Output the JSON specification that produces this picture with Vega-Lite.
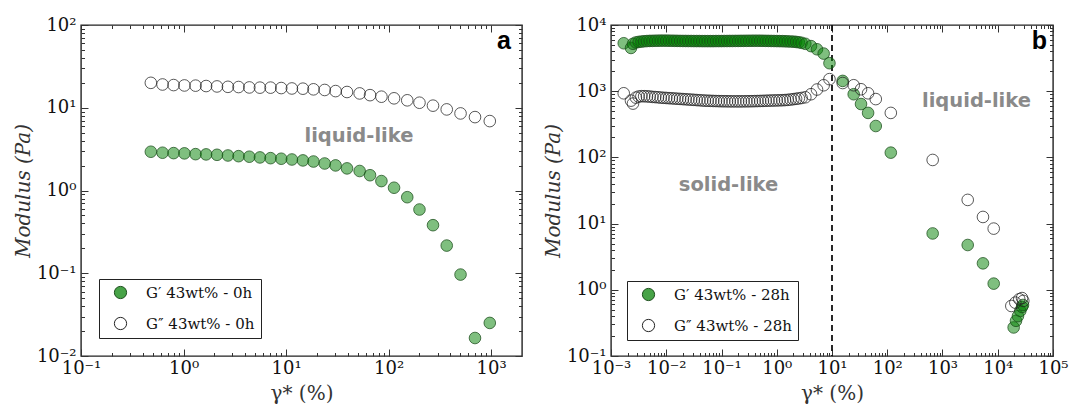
{
  "$schema": "https://vega.github.io/schema/vega-lite/v6.json",
  "padding": {"left": 13, "top": 15, "right": 0, "bottom": 0},
  "background": "white",
  "bounds": "flush",
  "spacing": 89,
  "datasets": {
    "a_gp": [
      {"strain": 0.48, "modulus": 2.94, "series": "G′ 43wt% - 0h"},
      {"strain": 0.624, "modulus": 2.86, "series": "G′ 43wt% - 0h"},
      {"strain": 0.8, "modulus": 2.83, "series": "G′ 43wt% - 0h"},
      {"strain": 1.02, "modulus": 2.81, "series": "G′ 43wt% - 0h"},
      {"strain": 1.31, "modulus": 2.75, "series": "G′ 43wt% - 0h"},
      {"strain": 1.66, "modulus": 2.73, "series": "G′ 43wt% - 0h"},
      {"strain": 2.12, "modulus": 2.7, "series": "G′ 43wt% - 0h"},
      {"strain": 2.71, "modulus": 2.65, "series": "G′ 43wt% - 0h"},
      {"strain": 3.44, "modulus": 2.6, "series": "G′ 43wt% - 0h"},
      {"strain": 4.38, "modulus": 2.56, "series": "G′ 43wt% - 0h"},
      {"strain": 5.56, "modulus": 2.51, "series": "G′ 43wt% - 0h"},
      {"strain": 7.06, "modulus": 2.46, "series": "G′ 43wt% - 0h"},
      {"strain": 8.97, "modulus": 2.42, "series": "G′ 43wt% - 0h"},
      {"strain": 11.4, "modulus": 2.37, "series": "G′ 43wt% - 0h"},
      {"strain": 14.6, "modulus": 2.31, "series": "G′ 43wt% - 0h"},
      {"strain": 18.5, "modulus": 2.24, "series": "G′ 43wt% - 0h"},
      {"strain": 23.8, "modulus": 2.12, "series": "G′ 43wt% - 0h"},
      {"strain": 30.4, "modulus": 2.01, "series": "G′ 43wt% - 0h"},
      {"strain": 39.3, "modulus": 1.85, "series": "G′ 43wt% - 0h"},
      {"strain": 52.2, "modulus": 1.72, "series": "G′ 43wt% - 0h"},
      {"strain": 65.9, "modulus": 1.53, "series": "G′ 43wt% - 0h"},
      {"strain": 85.1, "modulus": 1.3, "series": "G′ 43wt% - 0h"},
      {"strain": 113, "modulus": 1.08, "series": "G′ 43wt% - 0h"},
      {"strain": 152, "modulus": 0.83, "series": "G′ 43wt% - 0h"},
      {"strain": 200, "modulus": 0.589, "series": "G′ 43wt% - 0h"},
      {"strain": 271, "modulus": 0.381, "series": "G′ 43wt% - 0h"},
      {"strain": 369, "modulus": 0.216, "series": "G′ 43wt% - 0h"},
      {"strain": 503, "modulus": 0.0964, "series": "G′ 43wt% - 0h"},
      {"strain": 696, "modulus": 0.0165, "series": "G′ 43wt% - 0h"},
      {"strain": 970, "modulus": 0.0251, "series": "G′ 43wt% - 0h"}
    ],
    "a_gpp": [
      {"strain": 0.48, "modulus": 20.0, "series": "G″ 43wt% - 0h"},
      {"strain": 0.624, "modulus": 19.1, "series": "G″ 43wt% - 0h"},
      {"strain": 0.8, "modulus": 18.8, "series": "G″ 43wt% - 0h"},
      {"strain": 1.02, "modulus": 18.6, "series": "G″ 43wt% - 0h"},
      {"strain": 1.31, "modulus": 18.5, "series": "G″ 43wt% - 0h"},
      {"strain": 1.66, "modulus": 18.3, "series": "G″ 43wt% - 0h"},
      {"strain": 2.12, "modulus": 18.1, "series": "G″ 43wt% - 0h"},
      {"strain": 2.71, "modulus": 17.9, "series": "G″ 43wt% - 0h"},
      {"strain": 3.44, "modulus": 17.8, "series": "G″ 43wt% - 0h"},
      {"strain": 4.38, "modulus": 17.6, "series": "G″ 43wt% - 0h"},
      {"strain": 5.56, "modulus": 17.5, "series": "G″ 43wt% - 0h"},
      {"strain": 7.06, "modulus": 17.5, "series": "G″ 43wt% - 0h"},
      {"strain": 8.97, "modulus": 17.3, "series": "G″ 43wt% - 0h"},
      {"strain": 11.4, "modulus": 17.1, "series": "G″ 43wt% - 0h"},
      {"strain": 14.6, "modulus": 17.0, "series": "G″ 43wt% - 0h"},
      {"strain": 18.5, "modulus": 16.7, "series": "G″ 43wt% - 0h"},
      {"strain": 23.8, "modulus": 16.4, "series": "G″ 43wt% - 0h"},
      {"strain": 30.4, "modulus": 15.9, "series": "G″ 43wt% - 0h"},
      {"strain": 39.3, "modulus": 15.5, "series": "G″ 43wt% - 0h"},
      {"strain": 52.2, "modulus": 14.9, "series": "G″ 43wt% - 0h"},
      {"strain": 65.9, "modulus": 14.2, "series": "G″ 43wt% - 0h"},
      {"strain": 85.1, "modulus": 13.6, "series": "G″ 43wt% - 0h"},
      {"strain": 113, "modulus": 13.0, "series": "G″ 43wt% - 0h"},
      {"strain": 152, "modulus": 12.3, "series": "G″ 43wt% - 0h"},
      {"strain": 200, "modulus": 11.5, "series": "G″ 43wt% - 0h"},
      {"strain": 271, "modulus": 10.6, "series": "G″ 43wt% - 0h"},
      {"strain": 369, "modulus": 9.55, "series": "G″ 43wt% - 0h"},
      {"strain": 503, "modulus": 8.54, "series": "G″ 43wt% - 0h"},
      {"strain": 696, "modulus": 7.71, "series": "G″ 43wt% - 0h"},
      {"strain": 970, "modulus": 6.9, "series": "G″ 43wt% - 0h"}
    ],
    "a_ann": [{"strain": 51.4, "modulus": 3.85, "label": "liquid-like"}],
    "a_tag": [{"strain": 1333, "modulus": 51.3, "label": "a"}],
    "b_gp": [
      {"strain": 0.0017, "modulus": 5300, "series": "G′ 43wt% - 28h"},
      {"strain": 0.0023, "modulus": 4500, "series": "G′ 43wt% - 28h"},
      {"strain": 0.0025, "modulus": 5200, "series": "G′ 43wt% - 28h"},
      {"strain": 0.00282, "modulus": 5450, "series": "G′ 43wt% - 28h"},
      {"strain": 0.00316, "modulus": 5550, "series": "G′ 43wt% - 28h"},
      {"strain": 0.00355, "modulus": 5620, "series": "G′ 43wt% - 28h"},
      {"strain": 0.00398, "modulus": 5680, "series": "G′ 43wt% - 28h"},
      {"strain": 0.00447, "modulus": 5720, "series": "G′ 43wt% - 28h"},
      {"strain": 0.00501, "modulus": 5750, "series": "G′ 43wt% - 28h"},
      {"strain": 0.00562, "modulus": 5760, "series": "G′ 43wt% - 28h"},
      {"strain": 0.00631, "modulus": 5780, "series": "G′ 43wt% - 28h"},
      {"strain": 0.00708, "modulus": 5790, "series": "G′ 43wt% - 28h"},
      {"strain": 0.00794, "modulus": 5800, "series": "G′ 43wt% - 28h"},
      {"strain": 0.00891, "modulus": 5800, "series": "G′ 43wt% - 28h"},
      {"strain": 0.01, "modulus": 5800, "series": "G′ 43wt% - 28h"},
      {"strain": 0.0112, "modulus": 5790, "series": "G′ 43wt% - 28h"},
      {"strain": 0.0126, "modulus": 5780, "series": "G′ 43wt% - 28h"},
      {"strain": 0.0141, "modulus": 5770, "series": "G′ 43wt% - 28h"},
      {"strain": 0.0158, "modulus": 5760, "series": "G′ 43wt% - 28h"},
      {"strain": 0.0178, "modulus": 5750, "series": "G′ 43wt% - 28h"},
      {"strain": 0.02, "modulus": 5740, "series": "G′ 43wt% - 28h"},
      {"strain": 0.0224, "modulus": 5740, "series": "G′ 43wt% - 28h"},
      {"strain": 0.0251, "modulus": 5730, "series": "G′ 43wt% - 28h"},
      {"strain": 0.0282, "modulus": 5730, "series": "G′ 43wt% - 28h"},
      {"strain": 0.0316, "modulus": 5720, "series": "G′ 43wt% - 28h"},
      {"strain": 0.0355, "modulus": 5720, "series": "G′ 43wt% - 28h"},
      {"strain": 0.0398, "modulus": 5720, "series": "G′ 43wt% - 28h"},
      {"strain": 0.0447, "modulus": 5710, "series": "G′ 43wt% - 28h"},
      {"strain": 0.0501, "modulus": 5710, "series": "G′ 43wt% - 28h"},
      {"strain": 0.0562, "modulus": 5710, "series": "G′ 43wt% - 28h"},
      {"strain": 0.0631, "modulus": 5710, "series": "G′ 43wt% - 28h"},
      {"strain": 0.0708, "modulus": 5710, "series": "G′ 43wt% - 28h"},
      {"strain": 0.0794, "modulus": 5720, "series": "G′ 43wt% - 28h"},
      {"strain": 0.0891, "modulus": 5720, "series": "G′ 43wt% - 28h"},
      {"strain": 0.1, "modulus": 5720, "series": "G′ 43wt% - 28h"},
      {"strain": 0.112, "modulus": 5730, "series": "G′ 43wt% - 28h"},
      {"strain": 0.126, "modulus": 5730, "series": "G′ 43wt% - 28h"},
      {"strain": 0.141, "modulus": 5740, "series": "G′ 43wt% - 28h"},
      {"strain": 0.158, "modulus": 5740, "series": "G′ 43wt% - 28h"},
      {"strain": 0.178, "modulus": 5750, "series": "G′ 43wt% - 28h"},
      {"strain": 0.2, "modulus": 5750, "series": "G′ 43wt% - 28h"},
      {"strain": 0.224, "modulus": 5760, "series": "G′ 43wt% - 28h"},
      {"strain": 0.251, "modulus": 5760, "series": "G′ 43wt% - 28h"},
      {"strain": 0.282, "modulus": 5770, "series": "G′ 43wt% - 28h"},
      {"strain": 0.316, "modulus": 5770, "series": "G′ 43wt% - 28h"},
      {"strain": 0.355, "modulus": 5780, "series": "G′ 43wt% - 28h"},
      {"strain": 0.398, "modulus": 5780, "series": "G′ 43wt% - 28h"},
      {"strain": 0.447, "modulus": 5780, "series": "G′ 43wt% - 28h"},
      {"strain": 0.501, "modulus": 5780, "series": "G′ 43wt% - 28h"},
      {"strain": 0.562, "modulus": 5770, "series": "G′ 43wt% - 28h"},
      {"strain": 0.631, "modulus": 5760, "series": "G′ 43wt% - 28h"},
      {"strain": 0.708, "modulus": 5750, "series": "G′ 43wt% - 28h"},
      {"strain": 0.794, "modulus": 5740, "series": "G′ 43wt% - 28h"},
      {"strain": 0.891, "modulus": 5730, "series": "G′ 43wt% - 28h"},
      {"strain": 1.0, "modulus": 5720, "series": "G′ 43wt% - 28h"},
      {"strain": 1.12, "modulus": 5710, "series": "G′ 43wt% - 28h"},
      {"strain": 1.26, "modulus": 5700, "series": "G′ 43wt% - 28h"},
      {"strain": 1.41, "modulus": 5680, "series": "G′ 43wt% - 28h"},
      {"strain": 1.58, "modulus": 5660, "series": "G′ 43wt% - 28h"},
      {"strain": 1.78, "modulus": 5630, "series": "G′ 43wt% - 28h"},
      {"strain": 2.0, "modulus": 5600, "series": "G′ 43wt% - 28h"},
      {"strain": 2.24, "modulus": 5550, "series": "G′ 43wt% - 28h"},
      {"strain": 2.51, "modulus": 5480, "series": "G′ 43wt% - 28h"},
      {"strain": 2.82, "modulus": 5380, "series": "G′ 43wt% - 28h"},
      {"strain": 3.29, "modulus": 5200, "series": "G′ 43wt% - 28h"},
      {"strain": 4.17, "modulus": 4800, "series": "G′ 43wt% - 28h"},
      {"strain": 5.35, "modulus": 4300, "series": "G′ 43wt% - 28h"},
      {"strain": 7.06, "modulus": 3700, "series": "G′ 43wt% - 28h"},
      {"strain": 9.0, "modulus": 2650, "series": "G′ 43wt% - 28h"},
      {"strain": 15.6, "modulus": 1430, "series": "G′ 43wt% - 28h"},
      {"strain": 24.7, "modulus": 900, "series": "G′ 43wt% - 28h"},
      {"strain": 33.5, "modulus": 640, "series": "G′ 43wt% - 28h"},
      {"strain": 45, "modulus": 470, "series": "G′ 43wt% - 28h"},
      {"strain": 62, "modulus": 298, "series": "G′ 43wt% - 28h"},
      {"strain": 116, "modulus": 118, "series": "G′ 43wt% - 28h"},
      {"strain": 664, "modulus": 7.1, "series": "G′ 43wt% - 28h"},
      {"strain": 2860, "modulus": 4.75, "series": "G′ 43wt% - 28h"},
      {"strain": 5400, "modulus": 2.51, "series": "G′ 43wt% - 28h"},
      {"strain": 8450, "modulus": 1.24, "series": "G′ 43wt% - 28h"},
      {"strain": 19400, "modulus": 0.27, "series": "G′ 43wt% - 28h"},
      {"strain": 21400, "modulus": 0.34, "series": "G′ 43wt% - 28h"},
      {"strain": 23200, "modulus": 0.4, "series": "G′ 43wt% - 28h"},
      {"strain": 25600, "modulus": 0.48, "series": "G′ 43wt% - 28h"},
      {"strain": 27500, "modulus": 0.55, "series": "G′ 43wt% - 28h"},
      {"strain": 28600, "modulus": 0.59, "series": "G′ 43wt% - 28h"}
    ],
    "b_gpp": [
      {"strain": 0.0017, "modulus": 930, "series": "G″ 43wt% - 28h"},
      {"strain": 0.0023, "modulus": 720, "series": "G″ 43wt% - 28h"},
      {"strain": 0.0025, "modulus": 650, "series": "G″ 43wt% - 28h"},
      {"strain": 0.00282, "modulus": 800, "series": "G″ 43wt% - 28h"},
      {"strain": 0.00316, "modulus": 830, "series": "G″ 43wt% - 28h"},
      {"strain": 0.00355, "modulus": 840, "series": "G″ 43wt% - 28h"},
      {"strain": 0.00398, "modulus": 840, "series": "G″ 43wt% - 28h"},
      {"strain": 0.00447, "modulus": 835, "series": "G″ 43wt% - 28h"},
      {"strain": 0.00501, "modulus": 830, "series": "G″ 43wt% - 28h"},
      {"strain": 0.00562, "modulus": 820, "series": "G″ 43wt% - 28h"},
      {"strain": 0.00631, "modulus": 815, "series": "G″ 43wt% - 28h"},
      {"strain": 0.00708, "modulus": 810, "series": "G″ 43wt% - 28h"},
      {"strain": 0.00794, "modulus": 800, "series": "G″ 43wt% - 28h"},
      {"strain": 0.00891, "modulus": 795, "series": "G″ 43wt% - 28h"},
      {"strain": 0.01, "modulus": 790, "series": "G″ 43wt% - 28h"},
      {"strain": 0.0112, "modulus": 785, "series": "G″ 43wt% - 28h"},
      {"strain": 0.0126, "modulus": 780, "series": "G″ 43wt% - 28h"},
      {"strain": 0.0141, "modulus": 775, "series": "G″ 43wt% - 28h"},
      {"strain": 0.0158, "modulus": 770, "series": "G″ 43wt% - 28h"},
      {"strain": 0.0178, "modulus": 765, "series": "G″ 43wt% - 28h"},
      {"strain": 0.02, "modulus": 760, "series": "G″ 43wt% - 28h"},
      {"strain": 0.0224, "modulus": 755, "series": "G″ 43wt% - 28h"},
      {"strain": 0.0251, "modulus": 750, "series": "G″ 43wt% - 28h"},
      {"strain": 0.0282, "modulus": 745, "series": "G″ 43wt% - 28h"},
      {"strain": 0.0316, "modulus": 740, "series": "G″ 43wt% - 28h"},
      {"strain": 0.0355, "modulus": 735, "series": "G″ 43wt% - 28h"},
      {"strain": 0.0398, "modulus": 730, "series": "G″ 43wt% - 28h"},
      {"strain": 0.0447, "modulus": 725, "series": "G″ 43wt% - 28h"},
      {"strain": 0.0501, "modulus": 720, "series": "G″ 43wt% - 28h"},
      {"strain": 0.0562, "modulus": 718, "series": "G″ 43wt% - 28h"},
      {"strain": 0.0631, "modulus": 715, "series": "G″ 43wt% - 28h"},
      {"strain": 0.0708, "modulus": 712, "series": "G″ 43wt% - 28h"},
      {"strain": 0.0794, "modulus": 710, "series": "G″ 43wt% - 28h"},
      {"strain": 0.0891, "modulus": 708, "series": "G″ 43wt% - 28h"},
      {"strain": 0.1, "modulus": 706, "series": "G″ 43wt% - 28h"},
      {"strain": 0.112, "modulus": 705, "series": "G″ 43wt% - 28h"},
      {"strain": 0.126, "modulus": 704, "series": "G″ 43wt% - 28h"},
      {"strain": 0.141, "modulus": 703, "series": "G″ 43wt% - 28h"},
      {"strain": 0.158, "modulus": 702, "series": "G″ 43wt% - 28h"},
      {"strain": 0.178, "modulus": 702, "series": "G″ 43wt% - 28h"},
      {"strain": 0.2, "modulus": 702, "series": "G″ 43wt% - 28h"},
      {"strain": 0.224, "modulus": 702, "series": "G″ 43wt% - 28h"},
      {"strain": 0.251, "modulus": 703, "series": "G″ 43wt% - 28h"},
      {"strain": 0.282, "modulus": 704, "series": "G″ 43wt% - 28h"},
      {"strain": 0.316, "modulus": 705, "series": "G″ 43wt% - 28h"},
      {"strain": 0.355, "modulus": 706, "series": "G″ 43wt% - 28h"},
      {"strain": 0.398, "modulus": 708, "series": "G″ 43wt% - 28h"},
      {"strain": 0.447, "modulus": 710, "series": "G″ 43wt% - 28h"},
      {"strain": 0.501, "modulus": 712, "series": "G″ 43wt% - 28h"},
      {"strain": 0.562, "modulus": 714, "series": "G″ 43wt% - 28h"},
      {"strain": 0.631, "modulus": 717, "series": "G″ 43wt% - 28h"},
      {"strain": 0.708, "modulus": 720, "series": "G″ 43wt% - 28h"},
      {"strain": 0.794, "modulus": 722, "series": "G″ 43wt% - 28h"},
      {"strain": 0.891, "modulus": 724, "series": "G″ 43wt% - 28h"},
      {"strain": 1.0, "modulus": 726, "series": "G″ 43wt% - 28h"},
      {"strain": 1.12, "modulus": 728, "series": "G″ 43wt% - 28h"},
      {"strain": 1.26, "modulus": 731, "series": "G″ 43wt% - 28h"},
      {"strain": 1.41, "modulus": 735, "series": "G″ 43wt% - 28h"},
      {"strain": 1.58, "modulus": 740, "series": "G″ 43wt% - 28h"},
      {"strain": 1.78, "modulus": 748, "series": "G″ 43wt% - 28h"},
      {"strain": 2.0, "modulus": 758, "series": "G″ 43wt% - 28h"},
      {"strain": 2.24, "modulus": 768, "series": "G″ 43wt% - 28h"},
      {"strain": 2.51, "modulus": 778, "series": "G″ 43wt% - 28h"},
      {"strain": 2.82, "modulus": 790, "series": "G″ 43wt% - 28h"},
      {"strain": 3.29, "modulus": 810, "series": "G″ 43wt% - 28h"},
      {"strain": 4.17, "modulus": 900, "series": "G″ 43wt% - 28h"},
      {"strain": 5.35, "modulus": 1060, "series": "G″ 43wt% - 28h"},
      {"strain": 7.06, "modulus": 1230, "series": "G″ 43wt% - 28h"},
      {"strain": 9.0, "modulus": 1520, "series": "G″ 43wt% - 28h"},
      {"strain": 15.6, "modulus": 1330, "series": "G″ 43wt% - 28h"},
      {"strain": 24.7, "modulus": 1230, "series": "G″ 43wt% - 28h"},
      {"strain": 33.5, "modulus": 1070, "series": "G″ 43wt% - 28h"},
      {"strain": 45, "modulus": 930, "series": "G″ 43wt% - 28h"},
      {"strain": 62, "modulus": 760, "series": "G″ 43wt% - 28h"},
      {"strain": 116, "modulus": 470, "series": "G″ 43wt% - 28h"},
      {"strain": 664, "modulus": 91.5, "series": "G″ 43wt% - 28h"},
      {"strain": 2860, "modulus": 22.8, "series": "G″ 43wt% - 28h"},
      {"strain": 5400, "modulus": 12.6, "series": "G″ 43wt% - 28h"},
      {"strain": 8450, "modulus": 8.4, "series": "G″ 43wt% - 28h"},
      {"strain": 17600, "modulus": 0.57, "series": "G″ 43wt% - 28h"},
      {"strain": 20800, "modulus": 0.64, "series": "G″ 43wt% - 28h"},
      {"strain": 24500, "modulus": 0.72, "series": "G″ 43wt% - 28h"},
      {"strain": 27500, "modulus": 0.75, "series": "G″ 43wt% - 28h"},
      {"strain": 29000, "modulus": 0.68, "series": "G″ 43wt% - 28h"}
    ],
    "b_ann": [
      {"strain": 4120, "modulus": 577, "label": "liquid-like"},
      {"strain": 0.134, "modulus": 31, "label": "solid-like"}
    ],
    "b_tag": [{"strain": 56900, "modulus": 4340, "label": "b"}],
    "b_rule": [{"strain": 10}]
  },
  "hconcat": [
    {
      "width": 441,
      "height": 331,
      "layer": [
        {
          "data": {"name": "a_gp"},
          "mark": {"type": "point", "shape": "circle", "filled": true, "size": 135, "fillOpacity": 0.5, "strokeWidth": 1, "strokeOpacity": 0.75},
          "encoding": {
            "x": {"field": "strain", "type": "quantitative", "scale": {"type": "log", "domain": [0.1, 2000], "nice": false},
              "axis": {"orient": "bottom", "values": [0.1, 1, 10, 100, 1000], "labelExpr": "'10' + (datum.value < 1 ? '⁻' : '') + substring('⁰¹²³⁴⁵⁶⁷⁸⁹', abs(round(log(datum.value)/LN10)), abs(round(log(datum.value)/LN10)) + 1)", "tickSize": -7, "labelPadding": 10, "title": "γ* (%)", "titlePadding": 6}},
            "y": {"field": "modulus", "type": "quantitative", "scale": {"type": "log", "domain": [0.01, 100], "nice": false},
              "axis": {"orient": "left", "values": [0.01, 0.1, 1, 10, 100], "labelExpr": "'10' + (datum.value < 1 ? '⁻' : '') + substring('⁰¹²³⁴⁵⁶⁷⁸⁹', abs(round(log(datum.value)/LN10)), abs(round(log(datum.value)/LN10)) + 1)", "tickSize": -7, "labelPadding": 12, "title": "Modulus (Pa)", "titleFontStyle": "italic", "titlePadding": 2.5}},
            "color": {"field": "series", "type": "nominal", "scale": {"domain": ["G′ 43wt% - 0h", "G″ 43wt% - 0h"], "range": ["#008000", "transparent"]}, "legend": {"title": null, "encode": {"symbols": {"update": {"fillOpacity": {"value": 0.72}}}}}},
            "stroke": {"field": "series", "type": "nominal", "scale": {"domain": ["G′ 43wt% - 0h", "G″ 43wt% - 0h"], "range": ["#1b4d1b", "#222222"]}, "legend": {"title": null, "encode": {"symbols": {"update": {"fillOpacity": {"value": 0.72}}}}}}
          }
        },
        {
          "data": {"name": "a_gpp"},
          "mark": {"type": "point", "shape": "circle", "filled": true, "size": 135, "fillOpacity": 0.5, "strokeWidth": 1, "strokeOpacity": 0.75},
          "encoding": {
            "x": {"field": "strain", "type": "quantitative", "scale": {"type": "log", "domain": [0.1, 2000], "nice": false},
              "axis": {"orient": "bottom", "values": [0.2,0.3,0.4,0.5,0.6,0.7,0.8,0.9,2,3,4,5,6,7,8,9,20,30,40,50,60,70,80,90,200,300,400,500,600,700,800,900], "labels": false, "tickSize": -3.5, "title": null}},
            "y": {"field": "modulus", "type": "quantitative", "scale": {"type": "log", "domain": [0.01, 100], "nice": false},
              "axis": {"orient": "left", "values": [0.02,0.03,0.04,0.05,0.06,0.07,0.08,0.09,0.2,0.3,0.4,0.5,0.6,0.7,0.8,0.9,2,3,4,5,6,7,8,9,20,30,40,50,60,70,80,90], "labels": false, "tickSize": -3.5, "title": null}},
            "color": {"field": "series", "type": "nominal", "scale": {"domain": ["G′ 43wt% - 0h", "G″ 43wt% - 0h"], "range": ["#008000", "transparent"]}, "legend": {"title": null, "encode": {"symbols": {"update": {"fillOpacity": {"value": 0.72}}}}}},
            "stroke": {"field": "series", "type": "nominal", "scale": {"domain": ["G′ 43wt% - 0h", "G″ 43wt% - 0h"], "range": ["#1b4d1b", "#222222"]}, "legend": {"title": null, "encode": {"symbols": {"update": {"fillOpacity": {"value": 0.72}}}}}}
          }
        },
        {
          "data": {"name": "a_ann"},
          "mark": {"type": "text", "font": "DejaVu Sans", "fontWeight": "bold", "fontSize": 19.5, "color": "#8a8a8a", "align": "center", "baseline": "alphabetic"},
          "encoding": {
            "x": {"field": "strain", "type": "quantitative", "scale": {"type": "log", "domain": [0.1, 2000], "nice": false},
              "axis": {"orient": "top", "values": [0.1, 1, 10, 100, 1000], "labels": false, "tickSize": -7, "title": null}},
            "y": {"field": "modulus", "type": "quantitative", "scale": {"type": "log", "domain": [0.01, 100], "nice": false},
              "axis": {"orient": "right", "values": [0.01, 0.1, 1, 10, 100], "labels": false, "tickSize": -7, "title": null}},
            "text": {"field": "label"}
          }
        },
        {
          "data": {"name": "a_tag"},
          "mark": {"type": "text", "font": "Liberation Sans", "fontWeight": "bold", "fontSize": 25, "color": "#000000", "align": "center", "baseline": "alphabetic"},
          "encoding": {
            "x": {"field": "strain", "type": "quantitative", "scale": {"type": "log", "domain": [0.1, 2000], "nice": false},
              "axis": {"orient": "top", "values": [0.2,0.3,0.4,0.5,0.6,0.7,0.8,0.9,2,3,4,5,6,7,8,9,20,30,40,50,60,70,80,90,200,300,400,500,600,700,800,900], "labels": false, "tickSize": -3.5, "title": null}},
            "y": {"field": "modulus", "type": "quantitative", "scale": {"type": "log", "domain": [0.01, 100], "nice": false},
              "axis": {"orient": "right", "values": [0.02,0.03,0.04,0.05,0.06,0.07,0.08,0.09,0.2,0.3,0.4,0.5,0.6,0.7,0.8,0.9,2,3,4,5,6,7,8,9,20,30,40,50,60,70,80,90], "labels": false, "tickSize": -3.5, "title": null}},
            "text": {"field": "label"}
          }
        }
      ],
      "resolve": {"axis": {"x": "independent", "y": "independent"}}
    },
    {
      "width": 442,
      "height": 331,
      "layer": [
        {
          "data": {"name": "b_rule"},
          "mark": {"type": "rule", "strokeDash": [6, 4], "strokeWidth": 1.8, "color": "#111111"},
          "encoding": {
            "x": {"field": "strain", "type": "quantitative", "scale": {"type": "log", "domain": [0.001, 100000], "nice": false}, "axis": null}
          }
        },
        {
          "data": {"name": "b_gp"},
          "mark": {"type": "point", "shape": "circle", "filled": true, "size": 135, "fillOpacity": 0.5, "strokeWidth": 1, "strokeOpacity": 0.75},
          "encoding": {
            "x": {"field": "strain", "type": "quantitative", "scale": {"type": "log", "domain": [0.001, 100000], "nice": false},
              "axis": {"orient": "bottom", "values": [0.001, 0.01, 0.1, 1, 10, 100, 1000, 10000, 100000], "labelExpr": "'10' + (datum.value < 1 ? '⁻' : '') + substring('⁰¹²³⁴⁵⁶⁷⁸⁹', abs(round(log(datum.value)/LN10)), abs(round(log(datum.value)/LN10)) + 1)", "tickSize": -7, "labelPadding": 10, "title": "γ* (%)", "titlePadding": 6}},
            "y": {"field": "modulus", "type": "quantitative", "scale": {"type": "log", "domain": [0.1, 10000], "nice": false},
              "axis": {"orient": "left", "values": [0.1, 1, 10, 100, 1000, 10000], "labelExpr": "'10' + (datum.value < 1 ? '⁻' : '') + substring('⁰¹²³⁴⁵⁶⁷⁸⁹', abs(round(log(datum.value)/LN10)), abs(round(log(datum.value)/LN10)) + 1)", "tickSize": -7, "labelPadding": 12, "title": "Modulus (Pa)", "titleFontStyle": "italic", "titlePadding": 2.5}},
            "color": {"field": "series", "type": "nominal", "scale": {"domain": ["G′ 43wt% - 28h", "G″ 43wt% - 28h"], "range": ["#008000", "transparent"]}, "legend": {"title": null, "offset": 16, "encode": {"symbols": {"update": {"fillOpacity": {"value": 0.72}}}}}},
            "stroke": {"field": "series", "type": "nominal", "scale": {"domain": ["G′ 43wt% - 28h", "G″ 43wt% - 28h"], "range": ["#1b4d1b", "#222222"]}, "legend": {"title": null, "offset": 16, "encode": {"symbols": {"update": {"fillOpacity": {"value": 0.72}}}}}}
          }
        },
        {
          "data": {"name": "b_gpp"},
          "mark": {"type": "point", "shape": "circle", "filled": true, "size": 135, "fillOpacity": 0.5, "strokeWidth": 1, "strokeOpacity": 0.75},
          "encoding": {
            "x": {"field": "strain", "type": "quantitative", "scale": {"type": "log", "domain": [0.001, 100000], "nice": false},
              "axis": {"orient": "bottom", "values": [0.002,0.003,0.004,0.005,0.006,0.007,0.008,0.009,0.02,0.03,0.04,0.05,0.06,0.07,0.08,0.09,0.2,0.3,0.4,0.5,0.6,0.7,0.8,0.9,2,3,4,5,6,7,8,9,20,30,40,50,60,70,80,90,200,300,400,500,600,700,800,900,2000,3000,4000,5000,6000,7000,8000,9000,20000,30000,40000,50000,60000,70000,80000,90000], "labels": false, "tickSize": -3.5, "title": null}},
            "y": {"field": "modulus", "type": "quantitative", "scale": {"type": "log", "domain": [0.1, 10000], "nice": false},
              "axis": {"orient": "left", "values": [0.2,0.3,0.4,0.5,0.6,0.7,0.8,0.9,2,3,4,5,6,7,8,9,20,30,40,50,60,70,80,90,200,300,400,500,600,700,800,900,2000,3000,4000,5000,6000,7000,8000,9000], "labels": false, "tickSize": -3.5, "title": null}},
            "color": {"field": "series", "type": "nominal", "scale": {"domain": ["G′ 43wt% - 28h", "G″ 43wt% - 28h"], "range": ["#008000", "transparent"]}, "legend": {"title": null, "offset": 16, "encode": {"symbols": {"update": {"fillOpacity": {"value": 0.72}}}}}},
            "stroke": {"field": "series", "type": "nominal", "scale": {"domain": ["G′ 43wt% - 28h", "G″ 43wt% - 28h"], "range": ["#1b4d1b", "#222222"]}, "legend": {"title": null, "offset": 16, "encode": {"symbols": {"update": {"fillOpacity": {"value": 0.72}}}}}}
          }
        },
        {
          "data": {"name": "b_ann"},
          "mark": {"type": "text", "font": "DejaVu Sans", "fontWeight": "bold", "fontSize": 19.5, "color": "#8a8a8a", "align": "center", "baseline": "alphabetic"},
          "encoding": {
            "x": {"field": "strain", "type": "quantitative", "scale": {"type": "log", "domain": [0.001, 100000], "nice": false},
              "axis": {"orient": "top", "values": [0.001, 0.01, 0.1, 1, 10, 100, 1000, 10000, 100000], "labels": false, "tickSize": -7, "title": null}},
            "y": {"field": "modulus", "type": "quantitative", "scale": {"type": "log", "domain": [0.1, 10000], "nice": false},
              "axis": {"orient": "right", "values": [0.1, 1, 10, 100, 1000, 10000], "labels": false, "tickSize": -7, "title": null}},
            "text": {"field": "label"}
          }
        },
        {
          "data": {"name": "b_tag"},
          "mark": {"type": "text", "font": "Liberation Sans", "fontWeight": "bold", "fontSize": 25, "color": "#000000", "align": "center", "baseline": "alphabetic"},
          "encoding": {
            "x": {"field": "strain", "type": "quantitative", "scale": {"type": "log", "domain": [0.001, 100000], "nice": false},
              "axis": {"orient": "top", "values": [0.002,0.003,0.004,0.005,0.006,0.007,0.008,0.009,0.02,0.03,0.04,0.05,0.06,0.07,0.08,0.09,0.2,0.3,0.4,0.5,0.6,0.7,0.8,0.9,2,3,4,5,6,7,8,9,20,30,40,50,60,70,80,90,200,300,400,500,600,700,800,900,2000,3000,4000,5000,6000,7000,8000,9000,20000,30000,40000,50000,60000,70000,80000,90000], "labels": false, "tickSize": -3.5, "title": null}},
            "y": {"field": "modulus", "type": "quantitative", "scale": {"type": "log", "domain": [0.1, 10000], "nice": false},
              "axis": {"orient": "right", "values": [0.2,0.3,0.4,0.5,0.6,0.7,0.8,0.9,2,3,4,5,6,7,8,9,20,30,40,50,60,70,80,90,200,300,400,500,600,700,800,900,2000,3000,4000,5000,6000,7000,8000,9000], "labels": false, "tickSize": -3.5, "title": null}},
            "text": {"field": "label"}
          }
        }
      ],
      "resolve": {"axis": {"x": "independent", "y": "independent"}}
    }
  ],
  "resolve": {"scale": {"color": "independent", "stroke": "independent"}, "legend": {"color": "independent", "stroke": "independent"}},
  "config": {
    "view": {"stroke": "#222222", "strokeWidth": 1.4},
    "axis": {"labelFont": "DejaVu Serif", "labelFontSize": 18, "labelColor": "#111111", "titleFont": "DejaVu Serif", "titleFontSize": 20, "titleFontWeight": "normal", "titleColor": "#333333", "grid": false, "domain": false, "tickColor": "#333333", "tickWidth": 1, "labelFlush": false, "labelOverlap": false, "labelBound": false},
    "legend": {"orient": "bottom-left", "offset": 18, "strokeColor": "#222222", "fillColor": "white", "padding": 6, "labelFont": "DejaVu Serif", "labelFontSize": 15, "labelColor": "#111111", "symbolSize": 150, "rowPadding": 14, "labelOffset": 18, "symbolOffset": 8, "cornerRadius": 0, "symbolStrokeWidth": 1, "symbolOpacity": 1}
  }
}
